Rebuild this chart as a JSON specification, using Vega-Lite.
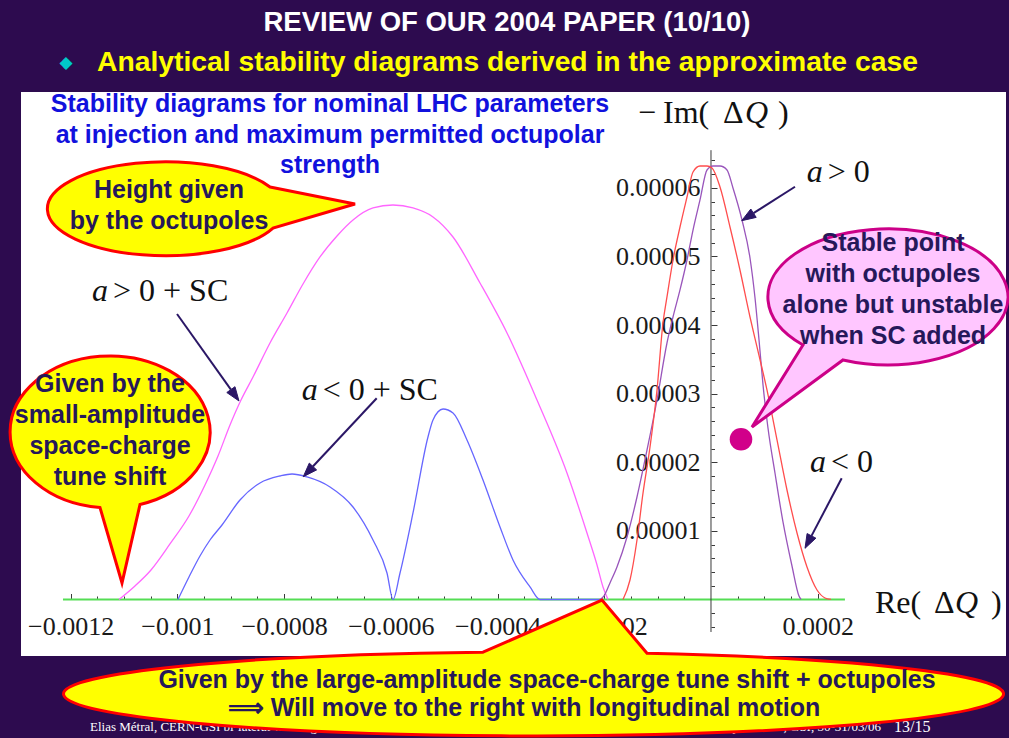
{
"$schema": "https://vega.github.io/schema/vega-lite/v6.json",
"width": 985,
"height": 564,
"autosize": {"type": "none"},
"padding": {"left": 21, "top": 92, "right": 3, "bottom": 82},
"background": "#2d0b4f",
"config": {
  "view": {"fill": "#ffffff", "stroke": null},
  "axis": {"grid": false, "domain": false, "title": null, "labelFont": "Liberation Serif", "labelFontSize": 26, "labelColor": "#1a1a1a", "tickColor": "#3a3a3a", "tickWidth": 1, "labelOverlap": false, "labelFlush": false, "labelBound": false}
},
"resolve": {"axis": {"x": "independent", "y": "independent"}},
"encoding": {
  "x": {"field": "x", "type": "quantitative", "scale": {"domain": [-0.0012931, 0.00055285], "nice": false, "zero": false}, "axis": null},
  "y": {"field": "y", "type": "quantitative", "scale": {"domain": [-0.00000824, 0.00007398], "nice": false, "zero": false}, "axis": null}
},
"layer": [
  {"data": {"values": [{}]}, "mark": {"type": "rect", "color": "#4b0f8f"},
   "encoding": {"x": {"datum": -0.0013325, "type": "quantitative"}, "x2": {"datum": -0.0013119}, "y": {"datum": 0.00008739, "type": "quantitative"}, "y2": {"datum": -0.00002019}}},
  {"data": {"values": [{}]}, "mark": {"type": "rect", "color": "#ffffff"},
   "encoding": {"x": {"datum": -0.0013072, "type": "quantitative"}, "x2": {"datum": -0.0013035}, "y": {"datum": 0.00008739, "type": "quantitative"}, "y2": {"datum": -0.00002019}}},
  {"data": {"values": [{}]}, "mark": {"type": "rect", "color": "#ffffff"},
   "encoding": {"x": {"datum": -0.0013072, "type": "quantitative"}, "x2": {"datum": 0.00055847}, "y": {"datum": 0.00008724, "type": "quantitative"}, "y2": {"datum": 0.00008695}}},
  {"data": {"values": [{"x": -0.0012144, "x2": 0.000251, "y": 0}]},
   "mark": {"type": "rule", "color": "#55dd55", "strokeWidth": 2.2},
   "encoding": {
     "x": {"field": "x", "type": "quantitative", "axis": {"orient": "bottom", "offset": -56.5, "values": [-0.0012, -0.001, -0.0008, -0.0006, -0.0004, -0.0002, 0.0002], "format": "~g", "tickSize": -6, "labelPadding": 32.5, "labelBaseline": "middle", "labelAlign": "center"}},
     "x2": {"field": "x2"},
     "y": {"field": "y", "type": "quantitative", "axis": {"orient": "left", "offset": -690, "values": [0.00001, 0.00002, 0.00003, 0.00004, 0.00005, 0.00006], "format": "~g", "tickSize": -6, "labelPadding": 17, "labelAlign": "right", "labelBaseline": "middle"}}
   }},
  {"data": {"values": [{"x": 0, "y": -0.00000474, "y2": 0.0000655}]},
   "mark": {"type": "rule", "color": "#3a3a3a", "strokeWidth": 1},
   "encoding": {
     "x": {"field": "x", "type": "quantitative", "axis": {"orient": "bottom", "offset": -56.5, "values": [-0.00115, -0.0011, -0.00105, -0.00095, -0.0009, -0.00085, -0.00075, -0.0007, -0.00065, -0.00055, -0.0005, -0.00045, -0.00035, -0.0003, -0.00025, -0.00015, -0.0001, -0.00005, 0.00005, 0.0001, 0.00015], "labels": false, "tickSize": -3.5}},
     "y": {"field": "y", "type": "quantitative", "axis": {"orient": "left", "offset": -690, "values": [-0.000004, -0.000002, 0.000002, 0.000004, 0.000006, 0.000008, 0.000012, 0.000014, 0.000016, 0.000018, 0.000022, 0.000024, 0.000026, 0.000028, 0.000032, 0.000034, 0.000036, 0.000038, 0.000042, 0.000044, 0.000046, 0.000048, 0.000052, 0.000054, 0.000056, 0.000058, 0.000062, 0.000064], "labels": false, "tickSize": -3.5}},
     "y2": {"field": "y2"}
   }},
  {"data": {"values": [
    {"s": "m", "x": -0.0011094, "y": 0},
    {"s": "m", "x": -0.0010795, "y": 0.00000197},
    {"s": "m", "x": -0.0010495, "y": 0.0000043},
    {"s": "m", "x": -0.0010139, "y": 0.00000809},
    {"s": "m", "x": -0.0009783, "y": 0.00001217},
    {"s": "m", "x": -0.0009483, "y": 0.00001669},
    {"s": "m", "x": -0.0009239, "y": 0.00002092},
    {"s": "m", "x": -0.0009014, "y": 0.00002544},
    {"s": "m", "x": -0.0008808, "y": 0.00002908},
    {"s": "m", "x": -0.0008583, "y": 0.00003243},
    {"s": "m", "x": -0.0008265, "y": 0.00003739},
    {"s": "m", "x": -0.0007946, "y": 0.00004176},
    {"s": "m", "x": -0.0007646, "y": 0.00004599},
    {"s": "m", "x": -0.0007328, "y": 0.00004993},
    {"s": "m", "x": -0.0007009, "y": 0.00005299},
    {"s": "m", "x": -0.0006709, "y": 0.00005532},
    {"s": "m", "x": -0.0006334, "y": 0.00005707},
    {"s": "m", "x": -0.000596, "y": 0.00005751},
    {"s": "m", "x": -0.0005585, "y": 0.00005707},
    {"s": "m", "x": -0.000521, "y": 0.00005576},
    {"s": "m", "x": -0.0004835, "y": 0.00005284},
    {"s": "m", "x": -0.0004329, "y": 0.00004614},
    {"s": "m", "x": -0.0003823, "y": 0.00003885},
    {"s": "m", "x": -0.0003261, "y": 0.00002908},
    {"s": "m", "x": -0.0002699, "y": 0.00001844},
    {"s": "m", "x": -0.0002324, "y": 0.00000969},
    {"s": "m", "x": -0.0002136, "y": 0.00000503},
    {"s": "m", "x": -0.0002024, "y": 0.00000182},
    {"s": "m", "x": -0.000193, "y": 0},
    {"s": "b", "x": -0.0009989, "y": 0},
    {"s": "b", "x": -0.0009783, "y": 0.00000328},
    {"s": "b", "x": -0.0009577, "y": 0.00000634},
    {"s": "b", "x": -0.0009389, "y": 0.00000867},
    {"s": "b", "x": -0.0009164, "y": 0.00001086},
    {"s": "b", "x": -0.0008827, "y": 0.0000145},
    {"s": "b", "x": -0.0008452, "y": 0.00001698},
    {"s": "b", "x": -0.0008077, "y": 0.000018},
    {"s": "b", "x": -0.0007852, "y": 0.00001829},
    {"s": "b", "x": -0.0007571, "y": 0.00001786},
    {"s": "b", "x": -0.000714, "y": 0.0000164},
    {"s": "b", "x": -0.0006709, "y": 0.00001348},
    {"s": "b", "x": -0.0006334, "y": 0.00000867},
    {"s": "b", "x": -0.0006072, "y": 0.00000386},
    {"s": "b", "x": -0.000596, "y": 0},
    {"s": "b", "x": -0.0005828, "y": 0.00000386},
    {"s": "b", "x": -0.0005585, "y": 0.00001261},
    {"s": "b", "x": -0.0005304, "y": 0.00002369},
    {"s": "b", "x": -0.000521, "y": 0.00002617},
    {"s": "b", "x": -0.0005022, "y": 0.00002777},
    {"s": "b", "x": -0.0004835, "y": 0.00002719},
    {"s": "b", "x": -0.0004573, "y": 0.00002325},
    {"s": "b", "x": -0.0004273, "y": 0.00001742},
    {"s": "b", "x": -0.0003954, "y": 0.00001057},
    {"s": "b", "x": -0.0003711, "y": 0.00000576},
    {"s": "b", "x": -0.0003392, "y": 0.00000182},
    {"s": "b", "x": -0.0003205, "y": 0},
    {"s": "b", "x": -0.0002024, "y": 0},
    {"s": "p", "x": -0.000208, "y": 0},
    {"s": "p", "x": -0.0002005, "y": 0.00000051},
    {"s": "p", "x": -0.0001893, "y": 0.00000241},
    {"s": "p", "x": -0.0001762, "y": 0.00000474},
    {"s": "p", "x": -0.0001574, "y": 0.00000911},
    {"s": "p", "x": -0.0001387, "y": 0.00001494},
    {"s": "p", "x": -0.0001199, "y": 0.00002179},
    {"s": "p", "x": -0.0001012, "y": 0.00002908},
    {"s": "p", "x": -0.0000825, "y": 0.00003739},
    {"s": "p", "x": -0.0000712, "y": 0.00004118},
    {"s": "p", "x": -0.0000581, "y": 0.00004512},
    {"s": "p", "x": -0.000045, "y": 0.00004949},
    {"s": "p", "x": -0.0000337, "y": 0.00005386},
    {"s": "p", "x": -0.0000206, "y": 0.00005824},
    {"s": "p", "x": -0.0000075, "y": 0.00006261},
    {"s": "p", "x": 0.0000037, "y": 0.00006319},
    {"s": "p", "x": 0.0000169, "y": 0.00006319},
    {"s": "p", "x": 0.00003, "y": 0.00006261},
    {"s": "p", "x": 0.0000412, "y": 0.00005999},
    {"s": "p", "x": 0.0000581, "y": 0.00005532},
    {"s": "p", "x": 0.0000731, "y": 0.00004978},
    {"s": "p", "x": 0.0000825, "y": 0.00004395},
    {"s": "p", "x": 0.00009, "y": 0.00003783},
    {"s": "p", "x": 0.0000975, "y": 0.00003127},
    {"s": "p", "x": 0.0001068, "y": 0.000025},
    {"s": "p", "x": 0.0001199, "y": 0.00001844},
    {"s": "p", "x": 0.0001349, "y": 0.0000113},
    {"s": "p", "x": 0.0001518, "y": 0.00000488},
    {"s": "p", "x": 0.0001649, "y": 0.00000051},
    {"s": "p", "x": 0.0001687, "y": 0},
    {"s": "r", "x": -0.0001649, "y": 0},
    {"s": "r", "x": -0.0001518, "y": 0.00000284},
    {"s": "r", "x": -0.0001387, "y": 0.00000867},
    {"s": "r", "x": -0.0001274, "y": 0.00001552},
    {"s": "r", "x": -0.0001143, "y": 0.00002223},
    {"s": "r", "x": -0.0001012, "y": 0.00003054},
    {"s": "r", "x": -0.00009, "y": 0.00004031},
    {"s": "r", "x": -0.0000825, "y": 0.0000441},
    {"s": "r", "x": -0.0000712, "y": 0.00004949},
    {"s": "r", "x": -0.0000581, "y": 0.0000543},
    {"s": "r", "x": -0.000045, "y": 0.00005867},
    {"s": "r", "x": -0.0000337, "y": 0.00006232},
    {"s": "r", "x": -0.0000206, "y": 0.00006319},
    {"s": "r", "x": -0.0000075, "y": 0.00006319},
    {"s": "r", "x": 0.0000019, "y": 0.0000629},
    {"s": "r", "x": 0.0000169, "y": 0.00006013},
    {"s": "r", "x": 0.0000356, "y": 0.0000543},
    {"s": "r", "x": 0.0000543, "y": 0.00004803},
    {"s": "r", "x": 0.0000731, "y": 0.00004118},
    {"s": "r", "x": 0.0000862, "y": 0.00003681},
    {"s": "r", "x": 0.0001049, "y": 0.00003054},
    {"s": "r", "x": 0.0001237, "y": 0.00002325},
    {"s": "r", "x": 0.0001424, "y": 0.00001596},
    {"s": "r", "x": 0.0001612, "y": 0.00000969},
    {"s": "r", "x": 0.0001799, "y": 0.00000474},
    {"s": "r", "x": 0.0001987, "y": 0.00000138},
    {"s": "r", "x": 0.0002136, "y": 0.00000022},
    {"s": "r", "x": 0.0002249, "y": 0}
  ]},
   "mark": {"type": "line", "strokeWidth": 1.3, "interpolate": "monotone"},
   "encoding": {"color": {"field": "s", "type": "nominal", "scale": {"domain": ["m", "b", "p", "r"], "range": ["#ff66ff", "#6666ff", "#9955bb", "#ff4d4d"]}, "legend": null}}},
  {"data": {"values": [
    {"x": -0.0010007, "y": 0.00004162, "x2": -0.0008997, "y2": 0.0000306},
    {"x": -0.0006265, "y": 0.00002933, "x2": -0.0007461, "y2": 0.00001939},
    {"x": 0.0001574, "y": 0.00006017, "x2": 0.00007965, "y2": 0.00005631},
    {"x": 0.0002449, "y": 0.00001767, "x2": 0.0001883, "y2": 0.00000927}
  ]},
   "mark": {"type": "rule", "color": "#2b1766", "strokeWidth": 2},
   "encoding": {"x2": {"field": "x2"}, "y2": {"field": "y2"}}},
  {"data": {"values": [
    {"id": 1, "o": 0, "x": -0.0009074, "y": 0.00003017},
    {"id": 1, "o": 1, "x": -0.0008846, "y": 0.00002894},
    {"id": 1, "o": 2, "x": -0.0008921, "y": 0.00003102},
    {"id": 1, "o": 3, "x": -0.0009074, "y": 0.00003017},
    {"id": 2, "o": 0, "x": -0.0007528, "y": 0.00001988},
    {"id": 2, "o": 1, "x": -0.0007641, "y": 0.0000179},
    {"id": 2, "o": 2, "x": -0.0007391, "y": 0.00001889},
    {"id": 2, "o": 3, "x": -0.0007528, "y": 0.00001988},
    {"id": 3, "o": 0, "x": 0.00007459, "y": 0.00005692},
    {"id": 3, "o": 1, "x": 0.00005753, "y": 0.00005522},
    {"id": 3, "o": 2, "x": 0.00008471, "y": 0.0000557},
    {"id": 3, "o": 3, "x": 0.00007459, "y": 0.00005692},
    {"id": 4, "o": 0, "x": 0.0001801, "y": 0.00000961},
    {"id": 4, "o": 1, "x": 0.0001762, "y": 0.00000746},
    {"id": 4, "o": 2, "x": 0.0001966, "y": 0.00000894},
    {"id": 4, "o": 3, "x": 0.0001801, "y": 0.00000961}
  ]},
   "mark": {"type": "line", "color": "#2b1766", "fill": "#2b1766", "strokeWidth": 1, "interpolate": "linear"},
   "encoding": {"detail": {"field": "id", "type": "nominal"}, "order": {"field": "o", "type": "quantitative"}}},
  {"data": {"values": [{"x": 0.00005622, "y": 0.00002335}]},
   "mark": {"type": "circle", "size": 510, "color": "#d1008a", "opacity": 1}},
  {"data": {"values": [
    {"t": "a", "x": -0.00116, "y": 0.00004497},
    {"t": "a", "x": -0.0007671, "y": 0.00003054},
    {"t": "a", "x": 0.0001793, "y": 0.00006236},
    {"t": "a", "x": 0.0001855, "y": 0.00002009},
    {"t": "Q", "x": 0.0000637, "y": 0.00007087},
    {"t": "Q", "x": 0.0004573, "y": -0.00000055}
  ]},
   "mark": {"type": "text", "font": "Liberation Serif", "fontStyle": "italic", "fontSize": 32, "color": "#111111", "align": "left", "baseline": "middle"},
   "encoding": {"text": {"field": "t"}}},
  {"data": {"values": [
    {"t": "> 0 + SC", "x": -0.0011207, "y": 0.00004497},
    {"t": "< 0 + SC", "x": -0.0007277, "y": 0.00003054},
    {"t": "> 0", "x": 0.0002187, "y": 0.00006236},
    {"t": "< 0", "x": 0.0002249, "y": 0.00002009},
    {"t": "−", "x": -0.0001368, "y": 0.00007087},
    {"t": "Im(", "x": -0.00009, "y": 0.00007087},
    {"t": "Δ", "x": 0.0000225, "y": 0.00007087},
    {"t": ")", "x": 0.0001256, "y": 0.00007087},
    {"t": "Re(", "x": 0.0003073, "y": -0.00000055},
    {"t": "Δ", "x": 0.0004179, "y": -0.00000055},
    {"t": ")", "x": 0.0005247, "y": -0.00000055}
  ]},
   "mark": {"type": "text", "font": "Liberation Serif", "fontSize": 32, "color": "#111111", "align": "left", "baseline": "middle"},
   "encoding": {"text": {"field": "t"}}},
  {"data": {"values": [{"t": "REVIEW OF OUR 2004 PAPER (10/10)", "x": -0.0003823, "y": 0.00008404}]},
   "mark": {"type": "text", "font": "Liberation Sans", "fontWeight": "bold", "fontSize": 27.5, "color": "#ffffff", "align": "center", "baseline": "middle"},
   "encoding": {"text": {"field": "t"}}},
  {"data": {"values": [{"t": "◆", "x": -0.0012088, "y": 0.00007821}]},
   "mark": {"type": "text", "font": "DejaVu Sans", "fontSize": 17, "color": "#00c8c8", "align": "center", "baseline": "middle"},
   "encoding": {"text": {"field": "t"}}},
  {"data": {"values": [{"t": "Analytical stability diagrams derived in the approximate case", "x": -0.0011507, "y": 0.00007821}]},
   "mark": {"type": "text", "font": "Liberation Sans", "fontWeight": "bold", "fontSize": 28.3, "color": "#ffff00", "align": "left", "baseline": "middle"},
   "encoding": {"text": {"field": "t"}}},
  {"data": {"values": [{"t": "Stability diagrams for nominal LHC parameters\nat injection and maximum permitted octupolar\nstrength", "x": -0.000714, "y": 0.00007216}]},
   "mark": {"type": "text", "font": "Liberation Sans", "fontWeight": "bold", "fontSize": 25, "lineHeight": 30.5, "lineBreak": "\n", "color": "#1111dd", "align": "center", "baseline": "middle"},
   "encoding": {"text": {"field": "t"}}},
  {"data": {"values": [
    {"t": "Elias Métral, CERN-GSI bi-lateral working meeting on Collective Effects", "x": -0.0011638, "y": -0.00001859}
  ]},
   "mark": {"type": "text", "font": "Liberation Serif", "fontSize": 13, "color": "#ffffff", "align": "left", "baseline": "middle"},
   "encoding": {"text": {"field": "t"}}},
  {"data": {"values": [
    {"t": "Coordination of Theory and Experiments, GSI, 30-31/03/06", "x": 0.0003186, "y": -0.00001859}
  ]},
   "mark": {"type": "text", "font": "Liberation Serif", "fontSize": 13, "color": "#ffffff", "align": "right", "baseline": "middle"},
   "encoding": {"text": {"field": "t"}}},
  {"data": {"values": [{"t": "13/15", "x": 0.000343, "y": -0.00001859}]},
   "mark": {"type": "text", "font": "Liberation Serif", "fontSize": 16, "color": "#ffffff", "align": "left", "baseline": "middle"},
   "encoding": {"text": {"field": "t"}}},
  {"data": {"values": [{"x": -0.0010232, "y": 0.00005692}]},
   "mark": {"type": "point", "shape": "M 105 -22 L 190 -5 L 108 19 A 118 47 0 1 1 105 -22 Z", "size": 4, "filled": true, "fill": "#ffff00", "stroke": "#ff0000", "strokeWidth": 3, "opacity": 1}},
  {"data": {"values": [{"x": -0.0011263, "y": 0.00002442}]},
   "mark": {"type": "point", "shape": "M -10 75.6 L 12 151 L 30 72.5 A 100 76 0 1 0 -10 75.6 Z", "size": 4, "filled": true, "fill": "#ffff00", "stroke": "#ff0000", "strokeWidth": 3, "opacity": 1}},
  {"data": {"values": [{"x": 0.0003317, "y": 0.0000441}]},
   "mark": {"type": "point", "shape": "M -85 48 L -136 130 L -45 63 A 120 68 0 1 0 -85 48 Z", "size": 4, "filled": true, "fill": "#ffc6ff", "stroke": "#cc0088", "strokeWidth": 3, "opacity": 1}},
  {"data": {"values": [{"x": -0.0003317, "y": -0.00001378}]},
   "mark": {"type": "point", "shape": "M -51 -41.8 L 68 -94 L 113 -40.8 A 470 42 0 1 1 -51 -41.8 Z", "size": 4, "filled": true, "fill": "#ffff00", "stroke": "#ff0000", "strokeWidth": 3, "opacity": 1}},
  {"data": {"values": [
    {"t": "Height given\nby the octupoles", "x": -0.0010157, "y": 0.0000597},
    {"t": "Given by the\nsmall-amplitude\nspace-charge\ntune shift", "x": -0.0011263, "y": 0.00003141},
    {"t": "Stable point\nwith octupoles\nalone but unstable\nwhen SC added", "x": 0.0003411, "y": 0.00005197},
    {"t": "Given by the large-amplitude space-charge tune shift + octupoles", "x": -0.0003073, "y": -0.00001173},
    {"t": "⟹ Will move to the right with longitudinal motion", "x": -0.0003504, "y": -0.00001582}
  ]},
   "mark": {"type": "text", "font": "Liberation Sans", "fontWeight": "bold", "fontSize": 25, "lineHeight": 31, "lineBreak": "\n", "color": "#26185a", "align": "center", "baseline": "middle"},
   "encoding": {"text": {"field": "t"}}}
]
}
